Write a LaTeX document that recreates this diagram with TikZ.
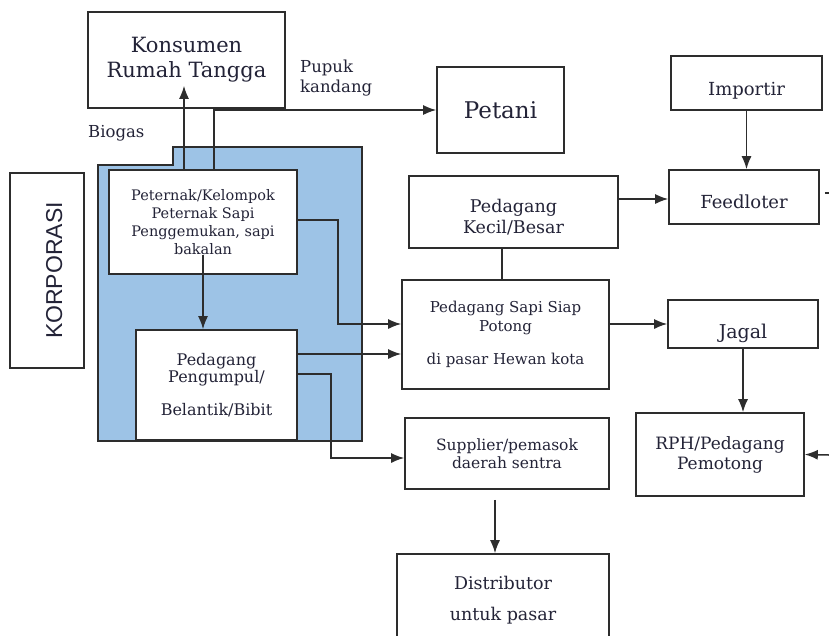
\documentclass[tikz,border=0pt]{standalone}
\usepackage{fontspec}
\setmainfont{DejaVu Serif}
\newfontfamily\korfont{Liberation Sans}
\usetikzlibrary{arrows.meta,positioning,calc}
\definecolor{kblue}{RGB}{157,195,230}
\definecolor{kline}{RGB}{45,45,45}
\definecolor{ktext}{RGB}{35,35,55}

\begin{document}
\begin{tikzpicture}[x=1pt,y=-1pt,>={Latex[length=13pt,width=10pt]},
  box/.style={draw=kline,line width=1.6pt,fill=white,align=center,inner sep=2pt,text=ktext},
  arr/.style={->,draw=kline,line width=1.5pt},
  lnk/.style={draw=kline,line width=1.5pt},
  lbl/.style={align=left,text=ktext,inner sep=0pt}]
\useasboundingbox (0,0) rectangle (829,635);
\clip (0,0) rectangle (829,635);

% blue area (korporasi)
\draw[kline,line width=1.4pt,fill=kblue] (98,165) -- (173,165) -- (173,147) -- (362,147) -- (362,441) -- (98,441) -- cycle;

% boxes
\node[box,minimum width=197pt,minimum height=96pt,font=\fontsize{21}{25}\selectfont] (konsumen) at (186.5,60) {Konsumen\\Rumah Tangga};
\node[box,minimum width=127pt,minimum height=86pt,font=\fontsize{23}{26}\selectfont] (petani) at (500.5,110) {Petani};
\node[box,minimum width=151pt,minimum height=54pt,font=\fontsize{18}{20}\selectfont,text height=29pt,text depth=4pt] (importir) at (746.5,83) {Importir};
\node[box,minimum width=150pt,minimum height=54pt,font=\fontsize{18}{20}\selectfont,text height=27pt,text depth=4pt] (feedloter) at (744,197) {Feedloter};
\node[box,minimum width=209pt,minimum height=72pt,font=\fontsize{17.5}{21}\selectfont] (kecil) at (513.5,212) {\rule{0pt}{23pt}Pedagang\\Kecil/Besar};
\node[box,minimum width=207pt,minimum height=109pt,font=\fontsize{15}{19}\selectfont] (sapi) at (505.5,334.5) {Pedagang Sapi Siap\\Potong\\[14pt]di pasar Hewan kota};
\node[box,minimum width=150pt,minimum height=48pt,font=\fontsize{19}{20}\selectfont,text height=33pt,text depth=4pt] (jagal) at (743,324) {Jagal};
\node[box,minimum width=168pt,minimum height=83pt,font=\fontsize{17}{20}\selectfont] (rph) at (720,454.5) {RPH/Pedagang\\Pemotong};
\node[box,minimum width=204pt,minimum height=71pt,font=\fontsize{15.5}{18}\selectfont] (supplier) at (507,453.5) {Supplier/pemasok\\daerah sentra};
\node[box,minimum width=212pt,minimum height=120pt,font=\fontsize{17.5}{31}\selectfont] (distributor) at (503,614) {Distributor\\untuk pasar\\\mbox{}};
\node[box,minimum width=188pt,minimum height=104pt,font=\fontsize{14.5}{18}\selectfont] (peternak) at (203,222) {Peternak/Kelompok\\Peternak Sapi\\Penggemukan, sapi\\bakalan};
\node[box,minimum width=161pt,minimum height=110pt,font=\fontsize{16}{17}\selectfont] (pengumpul) at (216.5,385) {Pedagang\\Pengumpul/\\[16pt]Belantik/Bibit};
\node[box,rotate=90,minimum width=195pt,minimum height=74pt,font=\korfont\fontsize{23}{26}\selectfont,text height=30pt,text depth=0pt] (korporasi) at (47,270.5) {KORPORASI};

% labels
\node[lbl,anchor=west,font=\fontsize{16.5}{20}\selectfont] (pupuk) at (300,78) {Pupuk\\kandang};
\node[lbl,anchor=west,font=\fontsize{16.5}{20}\selectfont] (biogas) at (88,133) {Biogas};

% free ends
\coordinate (fdedge) at (829,193);
\coordinate (rphin) at (829,455);

% connectors
\draw[arr] ([xshift=-19pt]peternak.north) -- ([xshift=-2.5pt,yshift=23pt]konsumen.south);
\draw[arr] ([xshift=11pt]peternak.north) |- (petani.west);
\draw[arr] ([yshift=-33pt]peternak.center) -- (peternak.center |- pengumpul.north);
\draw[arr] ([yshift=2pt]peternak.east) -- ++(40pt,0) |- ([yshift=10.5pt]sapi.west);
\draw[arr] ([yshift=31pt]pengumpul.east) -- ([yshift=-19.5pt]sapi.west);
\draw[arr] ([yshift=11pt]pengumpul.east) -- ++(33pt,0) |- ([yshift=-4.5pt]supplier.west);
\draw[lnk] ([xshift=-11.5pt]kecil.south) -- ([xshift=-3.5pt]sapi.north);
\draw[arr] ([yshift=13pt]kecil.east) -- ([yshift=-2pt]feedloter.west);
\draw[arr] (importir.south) -- (importir.south |- feedloter.north);
\draw[arr] ([yshift=10.5pt]sapi.east) -- (jagal.west);
\draw[arr] (jagal.south) -- (jagal.south |- rph.north);
\draw[arr] (rphin) -- (rph.east);
\draw[arr] ([xshift=-12pt,yshift=-10pt]supplier.south) -- ([xshift=-8pt]distributor.north);
\draw[lnk] ([xshift=5pt,yshift=4pt]feedloter.east) -- (fdedge);
\end{tikzpicture}
\end{document}
